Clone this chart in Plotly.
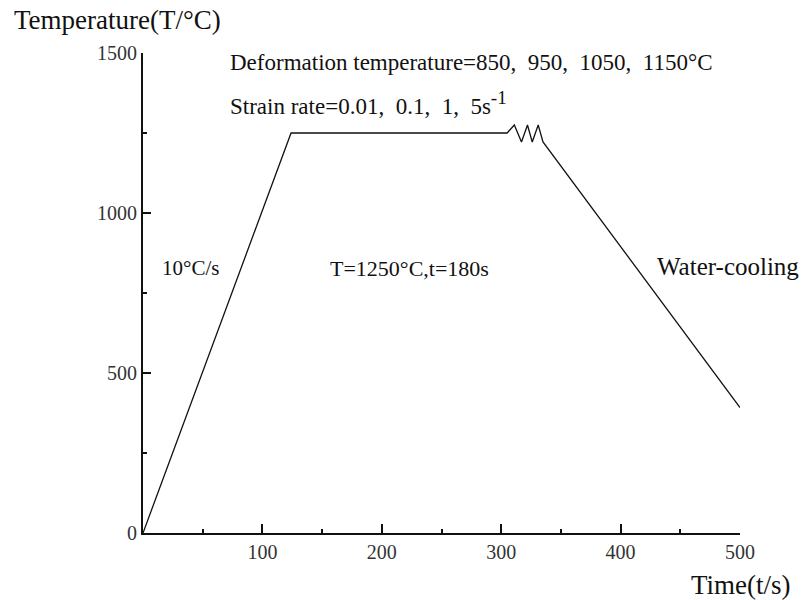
import plotly.graph_objects as go

# Data
time_s = [0, 124, 305, 311, 317, 322, 326, 331, 335, 500]
temp_c = [0, 1250, 1250, 1275, 1222, 1275, 1222, 1275, 1222, 392]

x_tickvals = [100, 200, 300, 400, 500]
y_tickvals = [0, 500, 1000, 1500]

FONT = "Liberation Serif"
INK = "#111111"

fig = go.Figure()
fig.add_trace(go.Scatter(x=time_s, y=temp_c, mode="lines",
                         line=dict(color=INK, width=1.3), hoverinfo="skip",
                         showlegend=False))

fig.update_layout(
    width=802, height=600,
    margin=dict(l=142.5, r=62, t=53, b=67),
    paper_bgcolor="white", plot_bgcolor="white",
    font=dict(family=FONT, color=INK),
    xaxis=dict(range=[0, 500], tickvals=x_tickvals, ticks="inside", ticklen=9,
               tickwidth=1.5, tickcolor=INK, showline=True, linecolor=INK,
               linewidth=2, showgrid=False, zeroline=False,
               tickfont=dict(family=FONT, size=20, color="#333"),
               minor=dict(dtick=50, ticks="inside", ticklen=4, tickwidth=1.5,
                          tickcolor=INK, showgrid=False)),
    yaxis=dict(range=[0, 1500], tickvals=y_tickvals, ticks="inside", ticklen=8,
               tickwidth=1.5, tickcolor=INK, showline=True, linecolor=INK,
               linewidth=2, showgrid=False, zeroline=False,
               tickfont=dict(family=FONT, size=20, color="#333"),
               minor=dict(dtick=250, ticks="inside", ticklen=4, tickwidth=1.5,
                          tickcolor=INK, showgrid=False)),
)

def txt(x, y, s, size):
    fig.add_annotation(x=x, y=y, xref="x", yref="y", text=s, showarrow=False,
                       xanchor="left", yanchor="middle",
                       font=dict(family=FONT, size=size, color=INK))

txt(71.5, 1469, "Deformation temperature=850,&nbsp; 950,&nbsp; 1050,&nbsp; 1150°C", 23)
txt(71.5, 1344, "Strain rate=0.01,&nbsp; 0.1,&nbsp; 1,&nbsp; 5s<sup><span style='font-size:19px'>-1</span></sup>", 23)
txt(14.6, 828, "10°C/s", 21)
txt(155, 828, "T=1250°C,t=180s", 22)
txt(429, 834, "Water-cooling", 25)

fig.add_annotation(xref="paper", yref="paper", x=0, y=1, xanchor="left",
                   yanchor="middle", xshift=-131, yshift=33,
                   text="Temperature(T/°C)", showarrow=False,
                   font=dict(family=FONT, size=27, color=INK))
fig.add_annotation(xref="paper", yref="paper", x=1, y=0, xanchor="right",
                   yanchor="middle", xshift=53, yshift=-52,
                   text="Time(t/s)", showarrow=False,
                   font=dict(family=FONT, size=27, color=INK))

fig.write_html("out.html")
